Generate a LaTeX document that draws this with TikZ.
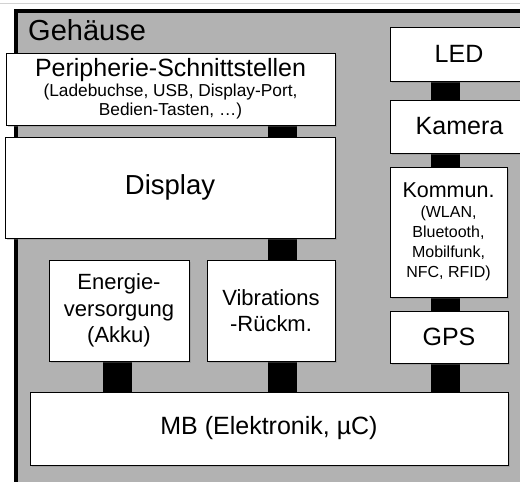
\documentclass[tikz,border=0pt]{standalone}
\usepackage{fontspec}
\setmainfont{Liberation Sans}
\usetikzlibrary{positioning,shadows,backgrounds}

\tikzset{
    unit/.style={draw, fill=white, line width=1pt, align=center, inner sep=2pt,
        drop shadow={shadow xshift=1.5pt, shadow yshift=-1.5pt, opacity=0.35}},
    bus/.style={draw=black, line width=29pt},
    bigtext/.style={font=\fontsize{25}{28}\selectfont},
    midtext/.style={font=\fontsize{22}{26.5}\selectfont},
}

\begin{document}
\begin{tikzpicture}[x=1pt, y=-1pt]
    \useasboundingbox (0,0) rectangle (520,482);
    \draw[gray!35, line width=1pt] (0,3) -- (520,3);

    % housing
    \begin{scope}[on background layer]
        \draw[line width=4pt, fill=gray!60] (16,11) rectangle (560,520);
    \end{scope}
    \node[anchor=base west, inner sep=0pt, font=\fontsize{29}{29}\selectfont] (housing title) at (28,40) {Gehäuse};

    % left column
    \node[unit, minimum width=329pt, minimum height=72pt, font=\fontsize{17.3}{19.5}\selectfont] (peri) at (170.5,89)
        {{\fontsize{25}{25}\selectfont Peripherie-Schnittstellen}\\(Ladebuchse, USB, Display-Port,\\Bedien-Tasten, …)};
    \node[unit, minimum width=330pt, minimum height=101pt, font=\fontsize{27.5}{30}\selectfont] (display) at (170,187.5) {Display};
    \node[unit, midtext, minimum width=140pt, minimum height=101pt] (energy) at (119,310.5) {Energie-\\versorgung\\(Akku)};
    \node[unit, midtext, minimum width=128pt, minimum height=101pt] (vibration) at (271,310.5) {Vibrations\\-Rückm.};
    \node[unit, bigtext, minimum width=478pt, minimum height=73pt] (mb) at (269,428.5) {MB (Elektronik, µC)};

    % right column
    \node[unit, bigtext, minimum width=138pt, minimum height=54pt] (led) at (459,54) {LED};
    \node[unit, bigtext, minimum width=139pt, minimum height=53pt] (camera) at (459.5,126.5) {Kamera};
    \node[unit, minimum width=117pt, minimum height=130pt, font=\fontsize{16}{20}\selectfont] (comm) at (448.5,232)
        {{\fontsize{21.5}{21.5}\selectfont Kommun.}\\(WLAN,\\Bluetooth,\\Mobilfunk,\\NFC, RFID)};
    \node[unit, bigtext, minimum width=118pt, minimum height=52pt] (gps) at (449,337) {GPS};

    % links
    \coordinate (col left) at (117.5,0);
    \coordinate (col mid) at (282.5,0);
    \coordinate (col right) at (445.5,0);
    \begin{scope}[on background layer]
        \draw[bus] (peri.south -| col mid) -- (display.north -| col mid);
        \draw[bus] (display.south -| col mid) -- (vibration.north -| col mid);
        \draw[bus] (vibration.south -| col mid) -- (mb.north -| col mid);
        \draw[bus] (energy.south -| col left) -- (mb.north -| col left);
        \draw[bus] (led.south -| col right) -- (camera.north -| col right);
        \draw[bus] (camera.south -| col right) -- (comm.north -| col right);
        \draw[bus] (comm.south -| col right) -- (gps.north -| col right);
        \draw[bus] (gps.south -| col right) -- (mb.north -| col right);
    \end{scope}
\end{tikzpicture}
\end{document}
